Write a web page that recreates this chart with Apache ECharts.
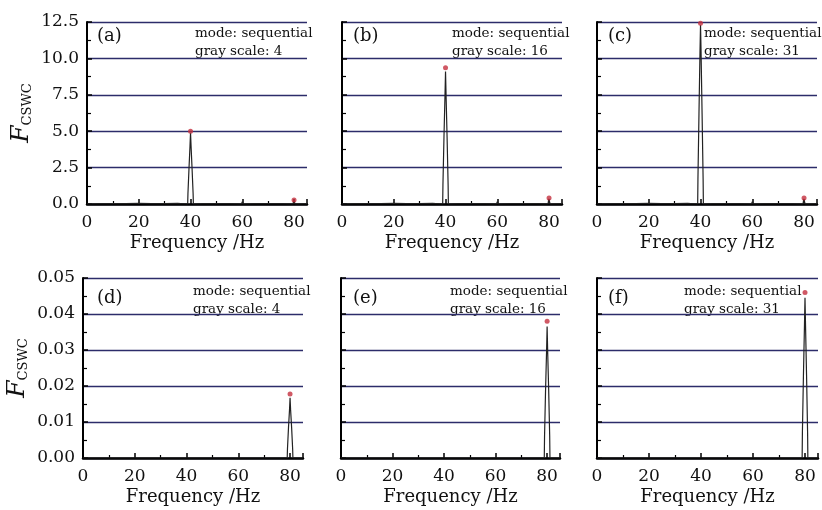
<!DOCTYPE html>
<html>
<head>
<meta charset="utf-8">
<script src="https://cdn.jsdelivr.net/npm/echarts@6/dist/echarts.min.js"></script>
<style>
  html, body { margin: 0; background: #fff; }
  #chart { width: 822px; height: 510px; }
</style>
</head>
<body>
<div id="chart"></div>
<script>
// spectrum, top row (peak at 40 Hz)
var freqTop = [0, 5, 10, 15, 20, 25, 30, 35, 38.9, 39.0, 39.4, 39.8, 40.0, 40.2, 40.6, 41.0, 41.1, 45, 50, 55, 59.7, 60, 60.3, 65, 70, 75, 79.6, 79.9, 80.1, 80.4, 85]
var specA = [0, 0.02, 0.03, 0.02, 0.05, 0.02, 0.03, 0.04, 0, 0.7, 2.4, 4.0, 4.9, 4.0, 2.4, 0.7, 0, 0.03, 0.02, 0.03, 0, 0.15, 0, 0.02, 0.03, 0.02, 0, 0.22, 0.22, 0, 0.02]
var specB = [0, 0.02, 0.03, 0.02, 0.05, 0.02, 0.03, 0.04, 0, 1.3, 4.6, 7.5, 9.1, 7.5, 4.6, 1.3, 0, 0.03, 0.02, 0.03, 0, 0.15, 0, 0.02, 0.03, 0.02, 0, 0.35, 0.35, 0, 0.02]
var specC = [0, 0.02, 0.03, 0.02, 0.05, 0.02, 0.03, 0.04, 0, 1.7, 6.2, 10.5, 12.3, 10.5, 6.2, 1.7, 0, 0.03, 0.02, 0.03, 0, 0.15, 0, 0.02, 0.03, 0.02, 0, 0.35, 0.35, 0, 0.02]

// spectrum, bottom row (peak at 80 Hz)
var freqBottom = [0, 10, 20, 30, 40, 50, 60, 70, 78.9, 79.0, 79.4, 79.8, 80.0, 80.2, 80.6, 81.0, 81.1, 85]
var specD = [0, 0, 0, 0, 0, 0, 0, 0, 0, 0.0025, 0.0085, 0.0135, 0.0167, 0.0135, 0.0085, 0.0025, 0, 0]
var specE = [0, 0, 0, 0, 0, 0, 0, 0, 0, 0.006, 0.019, 0.030, 0.0365, 0.030, 0.019, 0.006, 0, 0]
var specF = [0, 0, 0, 0, 0, 0, 0, 0, 0, 0.007, 0.023, 0.037, 0.0445, 0.037, 0.023, 0.007, 0, 0]

// red marker dots
var dotFreqTop = [40, 80]
var dotA = [5.0, 0.27]
var dotB = [9.36, 0.41]
var dotC = [12.41, 0.41]
var dotFreqBottom = [80]
var dotD = [0.0178]
var dotE = [0.038]
var dotF = [0.046]

var panelTags = ['(a)', '(b)', '(c)', '(d)', '(e)', '(f)']
var grayScales = [4, 16, 31, 4, 16, 31]
var xTicks = [0, 20, 40, 60, 80]

var font = 'DejaVu Serif'

var panels = [
    { f: freqTop, y: specA, df: dotFreqTop, dy: dotA, max: 12.5, step: 2.5, dec: 1 },
    { f: freqTop, y: specB, df: dotFreqTop, dy: dotB, max: 12.5, step: 2.5, dec: 1 },
    { f: freqTop, y: specC, df: dotFreqTop, dy: dotC, max: 12.5, step: 2.5, dec: 1 },
    { f: freqBottom, y: specD, df: dotFreqBottom, dy: dotD, max: 0.05, step: 0.01, dec: 2 },
    { f: freqBottom, y: specE, df: dotFreqBottom, dy: dotE, max: 0.05, step: 0.01, dec: 2 },
    { f: freqBottom, y: specF, df: dotFreqBottom, dy: dotF, max: 0.05, step: 0.01, dec: 2 }
]

var grids = [
    { left: 87, top: 22, width: 220, height: 182 },
    { left: 342, top: 22, width: 220, height: 182 },
    { left: 597, top: 22, width: 220, height: 182 },
    { left: 83, top: 278, width: 220, height: 180 },
    { left: 341, top: 278, width: 219, height: 180 },
    { left: 597, top: 278, width: 221, height: 180 }
]

// text positions (left of tag, left of mode text, first line y)
var tagPos = [[97, 38], [353, 38], [608, 38], [97, 300], [353, 300], [608, 300]]
var notePos = [[195, 32], [452, 32], [704, 32], [193, 290], [450, 290], [684, 290]]

function zip(a, b) {
    return a.map(function (v, i) { return [v, b[i]] })
}

var xAxes = [], yAxes = [], series = [], graphics = []

panels.forEach(function (p, i) {
    xAxes.push({
        gridIndex: i, type: 'value', min: 0, max: 85, interval: 20,
        name: 'Frequency /Hz', nameLocation: 'middle', nameGap: 30,
        nameTextStyle: { fontFamily: font, fontSize: 18, color: '#111' },
        axisLine: { lineStyle: { color: '#000', width: 2.5 } },
        axisTick: { inside: true, length: 5, lineStyle: { color: '#000', width: 1.5 } },
        minorTick: { show: true, splitNumber: 2, length: 3, lineStyle: { color: '#000', width: 1.2 } },
        splitLine: { show: false },
        axisLabel: {
            margin: 10, fontFamily: font, fontSize: 17, color: '#111',
            formatter: function (v) { return xTicks.indexOf(v) >= 0 ? String(v) : '' }
        }
    })
    yAxes.push({
        gridIndex: i, type: 'value', min: 0, max: p.max, interval: p.step,
        name: (i % 3 === 0) ? '{f|F}{s|CSWC}' : '',
        nameLocation: 'middle', nameRotate: 90, nameGap: 53,
        nameTextStyle: {
            rich: {
                f: { fontFamily: font, fontStyle: 'italic', fontSize: 25, color: '#111', verticalAlign: 'bottom' },
                s: { fontFamily: font, fontSize: 13, color: '#111', verticalAlign: 'bottom' }
            }
        },
        axisLine: { show: true, lineStyle: { color: '#000', width: 2 } },
        axisTick: { show: true, inside: true, length: 5, lineStyle: { color: '#000', width: 1.5 } },
        minorTick: { show: true, splitNumber: 2, length: 4, lineStyle: { color: '#000', width: 1.2 } },
        splitLine: { show: true, lineStyle: { color: '#2c2c6a', width: 1.3 } },
        axisLabel: {
            show: i % 3 === 0, margin: 8, fontFamily: font, fontSize: 17, color: '#111',
            formatter: function (v) { return v.toFixed(p.dec) }
        }
    })
    series.push({
        type: 'line', xAxisIndex: i, yAxisIndex: i, data: zip(p.f, p.y),
        symbol: 'none', lineStyle: { color: '#222', width: 1.2 }, z: 3
    })
    series.push({
        type: 'scatter', xAxisIndex: i, yAxisIndex: i, data: zip(p.df, p.dy),
        symbolSize: 5, itemStyle: { color: '#c4303e' }, z: 4
    })
    graphics.push({
        type: 'text', left: tagPos[i][0], top: tagPos[i][1] - 11,
        style: { text: panelTags[i], font: '18px "DejaVu Serif"', fill: '#111' }
    })
    graphics.push({
        type: 'text', left: notePos[i][0], top: notePos[i][1] - 8,
        style: {
            text: 'mode: sequential\ngray scale: ' + grayScales[i],
            font: '13.5px "DejaVu Serif"', fill: '#111', lineHeight: 18
        }
    })
})

var myChart = echarts.init(document.getElementById('chart'))
myChart.setOption({
    animation: false,
    backgroundColor: '#fff',
    grid: grids,
    xAxis: xAxes,
    yAxis: yAxes,
    series: series,
    graphic: graphics
})
</script>
</body>
</html>
